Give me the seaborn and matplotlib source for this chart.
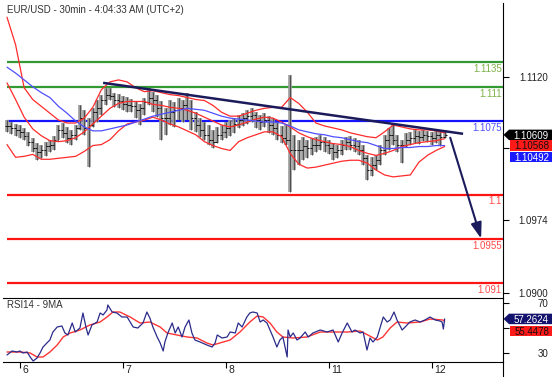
import numpy as np
import pandas as pd
import matplotlib
matplotlib.use("Agg")
import matplotlib.pyplot as plt
from matplotlib.lines import Line2D
from matplotlib.patches import Polygon
import seaborn as sns

# ---------------- data ----------------
bar_hour = list(range(103))
high = [1.1076,1.1074,1.1072,1.1071,1.1068,1.1064,1.1058,1.1053,1.1051,1.1054,
        1.1056,1.1060,1.1071,1.1073,1.1069,1.1066,1.1071,1.1091,1.1086,1.1078,
        1.1088,1.1097,1.1102,1.1109,1.1109,1.1104,1.1103,1.1101,1.1100,1.1098,
        1.1095,1.1092,1.1099,1.1109,1.1105,1.1102,1.1095,1.1088,1.1097,1.1094,
        1.1099,1.1097,1.1104,1.1097,1.1084,1.1078,1.1074,1.1071,1.1066,1.1069,
        1.1071,1.1074,1.1076,1.1078,1.1081,1.1083,1.1086,1.1088,1.1084,1.1081,
        1.1083,1.1080,1.1078,1.1074,1.1070,1.1071,1.1122,1.1061,1.1056,1.1059,
        1.1056,1.1058,1.1059,1.1061,1.1059,1.1056,1.1053,1.1051,1.1056,1.1059,
        1.1060,1.1058,1.1056,1.1051,1.1040,1.1038,1.1040,1.1051,1.1061,1.1068,
        1.1073,1.1061,1.1056,1.1063,1.1064,1.1066,1.1065,1.1066,1.1065,1.1064,
        1.1066,1.1065,1.1066]
low = [1.1064,1.1062,1.1060,1.1058,1.1056,1.1050,1.1043,1.1035,1.1037,1.1039,
       1.1043,1.1045,1.1056,1.1058,1.1053,1.1051,1.1056,1.1066,1.1061,1.1028,
       1.1069,1.1074,1.1081,1.1091,1.1097,1.1089,1.1088,1.1086,1.1084,1.1084,
       1.1078,1.1071,1.1081,1.1091,1.1084,1.1079,1.1056,1.1061,1.1071,1.1069,
       1.1076,1.1074,1.1076,1.1066,1.1064,1.1059,1.1056,1.1051,1.1048,1.1053,
       1.1056,1.1058,1.1060,1.1063,1.1068,1.1070,1.1072,1.1074,1.1068,1.1066,
       1.1069,1.1063,1.1061,1.1056,1.1053,1.1051,1.1003,1.1025,1.1030,1.1035,
       1.1037,1.1040,1.1043,1.1045,1.1043,1.1041,1.1035,1.1037,1.1040,1.1045,
       1.1045,1.1043,1.1040,1.1030,1.1015,1.1019,1.1025,1.1030,1.1040,1.1045,
       1.1051,1.1043,1.1032,1.1049,1.1051,1.1053,1.1052,1.1055,1.1054,1.1051,
       1.1053,1.1050,1.1058]
close = [1.1070,1.1068,1.1066,1.1064,1.1060,1.1054,1.1048,1.1043,1.1045,1.1050,
         1.1051,1.1056,1.1066,1.1063,1.1058,1.1061,1.1068,1.1078,1.1068,1.1071,
         1.1084,1.1088,1.1097,1.1102,1.1101,1.1097,1.1095,1.1092,1.1091,1.1090,
         1.1086,1.1088,1.1094,1.1099,1.1097,1.1088,1.1078,1.1078,1.1084,1.1086,
         1.1088,1.1091,1.1088,1.1078,1.1071,1.1066,1.1061,1.1056,1.1054,1.1061,
         1.1064,1.1068,1.1070,1.1072,1.1076,1.1078,1.1080,1.1081,1.1076,1.1074,
         1.1076,1.1071,1.1068,1.1061,1.1058,1.1056,1.1045,1.1045,1.1045,1.1050,
         1.1048,1.1051,1.1051,1.1054,1.1051,1.1048,1.1043,1.1045,1.1051,1.1054,
         1.1051,1.1050,1.1045,1.1037,1.1025,1.1030,1.1035,1.1045,1.1056,1.1061,
         1.1056,1.1051,1.1051,1.1056,1.1058,1.1060,1.1059,1.1061,1.1060,1.1058,
         1.1061,1.1059,1.1061]

band_hour = list(range(0, 103, 2))
bb_upper = [1.1181,1.1153,1.1109,1.1097,1.1090,1.1083,1.1076,1.1073,1.1073,1.1078,
            1.1089,1.1107,1.1115,1.1117,1.1115,1.1109,1.1105,1.1106,1.1104,1.1102,
            1.1101,1.1099,1.1097,1.1096,1.1091,1.1084,1.1080,1.1080,1.1083,1.1086,
            1.1088,1.1089,1.1089,1.1099,1.1093,1.1084,1.1073,1.1070,1.1068,1.1066,
            1.1063,1.1061,1.1059,1.1058,1.1064,1.1071,1.1069,1.1067,1.1066,1.1066,
            1.1065,1.1063]
bb_mid = [1.1114,1.1097,1.1079,1.1067,1.1060,1.1055,1.1054,1.1055,1.1058,1.1064,
          1.1072,1.1080,1.1088,1.1093,1.1095,1.1095,1.1095,1.1092,1.1091,1.1089,
          1.1088,1.1086,1.1083,1.1079,1.1075,1.1071,1.1069,1.1071,1.1074,1.1077,
          1.1079,1.1078,1.1074,1.1069,1.1063,1.1059,1.1056,1.1054,1.1052,1.1051,
          1.1049,1.1045,1.1042,1.1040,1.1042,1.1045,1.1049,1.1051,1.1053,1.1054,
          1.1055,1.1057]
bb_lower = [1.1051,1.1038,1.1039,1.1041,1.1036,1.1036,1.1037,1.1038,1.1039,1.1044,
            1.1050,1.1051,1.1056,1.1065,1.1072,1.1074,1.1076,1.1079,1.1076,1.1072,
            1.1069,1.1065,1.1061,1.1054,1.1050,1.1047,1.1045,1.1054,1.1058,1.1061,
            1.1064,1.1064,1.1059,1.1042,1.1031,1.1027,1.1028,1.1030,1.1032,1.1034,
            1.1035,1.1035,1.1032,1.1025,1.1020,1.1018,1.1019,1.1020,1.1033,1.1040,
            1.1045,1.1049]
ma_blue = [1.1130,1.1124,1.1117,1.1110,1.1104,1.1099,1.1090,1.1083,1.1075,1.1069,
           1.1065,1.1065,1.1067,1.1069,1.1071,1.1074,1.1077,1.1080,1.1082,1.1084,
           1.1086,1.1088,1.1087,1.1086,1.1083,1.1080,1.1078,1.1077,1.1076,1.1075,
           1.1074,1.1074,1.1073,1.1070,1.1066,1.1064,1.1062,1.1061,1.1059,1.1058,
           1.1056,1.1054,1.1053,1.1050,1.1047,1.1047,1.1048,1.1048,1.1049,1.1049,
           1.1050,1.1050]

rsi_hour = [0.0,1.2,2.3,3.0,3.7,4.7,5.4,6.1,7.0,7.7,
            8.4,9.3,10.0,10.7,11.7,12.8,13.5,14.2,15.2,15.9,
            17.0,17.7,18.4,18.9,19.8,21.0,21.7,22.4,23.3,23.5,
            24.5,25.6,26.8,28.0,28.7,29.4,30.5,31.7,32.6,33.3,
            34.0,35.0,35.7,36.4,36.8,37.5,38.5,39.2,39.9,40.8,
            41.5,42.4,43.1,43.8,45.0,46.6,47.8,48.5,49.0,50.1,
            51.3,52.0,53.2,53.9,54.8,55.9,56.6,57.3,58.3,59.0,
            59.7,60.6,61.3,62.0,62.9,63.6,64.3,65.3,65.5,66.0,
            66.7,67.6,68.3,69.5,70.2,71.3,73.0,74.6,76.0,77.2,
            78.1,79.3,80.4,81.1,82.3,83.0,83.9,84.6,85.3,86.3,
            87.0,87.7,88.6,89.3,90.2,90.9,92.1,92.8,93.9,95.1,
            96.3,97.4,98.6,99.8,100.9,101.4,101.7,102.0]
rsi_value = [28.4,31.6,30.8,31.6,30.0,30.8,26.8,23.6,26.0,30.0,
             34.8,38.0,40.4,46.8,50.8,51.6,46.0,44.4,54.0,46.8,
             50.0,62.0,50.8,44.4,52.4,54.8,62.0,60.4,64.4,68.4,
             62.8,62.0,58.8,58.8,54.8,50.8,50.0,54.0,62.8,58.0,
             50.8,42.8,38.0,31.6,38.8,46.0,54.0,46.0,50.8,42.8,
             50.8,56.4,46.0,40.4,38.8,36.4,34.8,38.0,44.4,42.0,
             42.8,46.8,46.0,54.0,50.8,58.8,62.0,62.8,62.0,54.8,
             56.4,54.0,48.4,42.8,34.8,40.4,42.8,26.8,48.4,42.8,
             46.0,40.4,42.0,46.8,42.8,46.0,48.4,46.8,48.4,38.8,
             46.0,54.0,46.8,48.4,46.0,46.8,32.4,42.0,38.8,42.8,
             50.8,58.8,54.8,56.4,62.8,56.4,48.4,50.8,54.8,56.4,
             54.8,56.4,58.8,56.4,55.6,54.8,49.2,57.26]
rsi_ma_hour = [0.0,3.0,5.4,7.0,8.4,10.0,11.7,13.1,14.7,17.0,
               19.3,21.7,23.3,24.7,26.3,28.7,31.0,33.3,35.7,37.3,
               39.6,42.0,44.3,46.6,48.0,49.6,52.0,54.3,56.6,58.3,
               59.7,61.3,62.9,64.3,66.7,69.9,73.0,76.0,79.3,82.3,
               84.1,86.3,87.6,89.3,90.9,93.2,96.3,98.6,101.6,102.0]
rsi_ma_value = [30.8,30.8,30.0,26.8,26.8,30.8,36.4,42.8,46.0,48.4,
                52.4,54.8,58.8,62.8,62.8,58.8,54.0,54.8,50.8,46.0,
                44.4,42.8,42.0,38.0,36.4,38.0,40.4,46.8,54.8,59.6,
                58.8,54.0,46.8,42.8,42.0,42.8,46.8,46.8,46.8,47.6,
                44.4,40.4,42.8,50.0,54.8,54.0,54.8,57.2,56.4,55.45]

levels = [1.1135, 1.111, 1.1075, 1.1, 1.0955, 1.091]
level_labels = ["1.1135", "1.111", "1.1075", "1.1", "1.0955", "1.091"]
level_line_colors = ["#339a33", "#339a33", "#1414ff", "#ff1414", "#ff1414", "#ff1414"]
level_text_colors = ["#7fb24a", "#7fb24a", "#5050ff", "#ff4a4a", "#ff4a4a", "#ff4a4a"]

day_hour = [3, 27, 51, 75, 99]
day_labels = ["6", "7", "8", "11", "12"]
price_ticks = [1.1120, 1.1047, 1.0974, 1.0900]
price_tick_labels = ["1.1120", "", "1.0974", "1.0900"]
rsi_ticks = [70, 50, 30]
rsi_tick_labels = ["70", "", "30"]

trend_hour = [22.4, 106.3]
trend_price = [1.1114, 1.1062]
arrow_hour = [103.3, 110.5]
arrow_price = [1.1058, 1.0955]

last_close, last_mid, last_ma = 1.10609, 1.10568, 1.10492
last_rsi, last_rsi_ma = 57.2624, 55.4478

# ---------------- figure ----------------
sns.set_style("white")
plt.rcParams["font.family"] = ["Liberation Sans", "DejaVu Sans"]

W, H = 558, 377
fig = plt.figure(figsize=(W / 100, H / 100), dpi=100, facecolor="white")
ax = fig.add_axes([3 / W, 1 - 298 / H, 500 / W, 295 / H])
axr = fig.add_axes([3 / W, 1 - 362 / H, 500 / W, 64 / H])

XMIN, XMAX = -0.93, 115.6
for a in (ax, axr):
    a.set_xlim(XMIN, XMAX)
    a.set_facecolor("white")
    a.spines["left"].set_visible(False)
    a.spines["right"].set_color("black")
    a.spines["right"].set_linewidth(0.8)
ax.spines["top"].set_visible(False)
ax.spines["bottom"].set_visible(False)
axr.spines["top"].set_linewidth(0.8)
axr.spines["top"].set_color("black")
axr.spines["bottom"].set_linewidth(0.8)
axr.spines["bottom"].set_color("black")
ax.set_ylim(1.08944, 1.11955)
axr.set_ylim(22.8, 74.0)

# level lines
ax.hlines(levels, 0, XMAX, colors=level_line_colors, linewidth=1.6, zorder=1)
for lv, lab, tc in zip(levels, level_labels, level_text_colors):
    ax.annotate(lab, xy=(1, lv), xycoords=("axes fraction", "data"),
                xytext=(-0.8, -5.0), textcoords="offset points",
                ha="right", va="center", fontsize=7, color=tc, zorder=4)

# bars
opens = [close[0]] + close[:-1]
ax.vlines(bar_hour, low, high, color="#9a9a9a", linewidth=2.6, zorder=2)
ax.vlines(bar_hour, low, high, color="#3a3a3a", linewidth=0.55, zorder=3)
ax.hlines(close, np.array(bar_hour), np.array(bar_hour) + 0.45, color="#111111",
          linewidth=0.7, zorder=3)
ax.hlines(opens, np.array(bar_hour) - 0.45, np.array(bar_hour), color="#111111",
          linewidth=0.7, zorder=3)

# bands and moving average
bands = pd.DataFrame({"hour": band_hour, "upper": bb_upper, "mid": bb_mid,
                      "lower": bb_lower, "ma": ma_blue})
for col, colr in (("upper", "#ff2b2b"), ("mid", "#ff2b2b"), ("lower", "#ff2b2b"), ("ma", "#4f4fff")):
    sns.lineplot(data=bands, x="hour", y=col, ax=ax, color=colr, linewidth=0.9,
                 legend=False, zorder=4)

# trend line and arrow
ax.plot(trend_hour, trend_price, color="#1b1b5c", linewidth=1.8, zorder=5, solid_capstyle="butt")
ax.annotate("", xy=(arrow_hour[1], arrow_price[1]), xytext=(arrow_hour[0], arrow_price[0]),
            arrowprops=dict(arrowstyle="-|>,head_length=0.95,head_width=0.32",
                            color="#1b1b5c", lw=1.5, shrinkA=0, shrinkB=0,
                            mutation_scale=10), zorder=5)

# RSI panel
rsi_df = pd.DataFrame({"hour": rsi_hour, "rsi": rsi_value})
rsi_ma_df = pd.DataFrame({"hour": rsi_ma_hour, "ma": rsi_ma_value})
sns.lineplot(data=rsi_ma_df, x="hour", y="ma", ax=axr, color="#ff3535", linewidth=1.0, legend=False)
sns.lineplot(data=rsi_df, x="hour", y="rsi", ax=axr, color="#2b2b8c", linewidth=0.9, legend=False)

for a in (ax, axr):
    a.set_xlabel("")
    a.set_ylabel("")

# ticks
ax.set_xticks([])
ax.set_yticks(price_ticks)
ax.tick_params(axis="y", left=False, right=True, labelleft=False, labelright=False,
               direction="out", length=4, width=0.8, color="black")
axr.set_yticks(rsi_ticks)
axr.tick_params(axis="y", left=False, right=True, labelleft=False, labelright=False,
                direction="out", length=4, width=0.8, color="black")
axr.set_xticks(day_hour)
axr.tick_params(axis="x", bottom=True, labelbottom=False, direction="out",
                length=4, width=0.8, color="black")

for t, lab in zip(price_ticks, price_tick_labels):
    if lab:
        ax.annotate(lab, xy=(1, t), xycoords=("axes fraction", "data"), xytext=(32.5, 0),
                    textcoords="offset points", ha="right", va="center_baseline",
                    fontsize=7, color="#222222", annotation_clip=False)
for t, lab in zip(rsi_ticks, rsi_tick_labels):
    if lab:
        axr.annotate(lab, xy=(1, t), xycoords=("axes fraction", "data"), xytext=(32.5, 0),
                     textcoords="offset points", ha="right", va="center_baseline",
                     fontsize=7, color="#222222", annotation_clip=False)
for d, lab in zip(day_hour, day_labels):
    axr.annotate(lab, xy=(d, 0), xycoords=("data", "axes fraction"), xytext=(1.6, -2.0),
                 textcoords="offset points", ha="left", va="top", fontsize=7.5,
                 color="#222222", annotation_clip=False)

# right axis line continues below the RSI panel
fig.add_artist(Line2D([503 / W, 503 / W], [0, 15 / H], transform=fig.transFigure,
                      color="black", linewidth=0.8))

# texts
fig.text(7 / W, 1 - 10 / H, "EUR/USD - 30min - 4:04:33 AM (UTC+2)", fontsize=7,
         color="#333333", ha="left", va="center")
fig.text(7 / W, 1 - 305 / H, "RSI14 - 9MA", fontsize=7, color="#333333",
         ha="left", va="center")


def tag(a, value, text, fc, tc, dy_px, pointer):
    y_disp = a.transData.transform((0, value))[1]
    yc = y_disp - dy_px
    h = 10.5
    x0, x1 = (509, 552) if pointer else (510, 552)
    pts = [(x0, yc - h / 2), (x1, yc - h / 2), (x1, yc + h / 2), (x0, yc + h / 2)]
    if pointer:
        pts = [(503.5, yc)] + pts
    poly = Polygon([(x / W, y / H) for x, y in pts], closed=True,
                   transform=fig.transFigure, facecolor=fc, edgecolor="none", zorder=5)
    fig.add_artist(poly)
    fig.text((x0 + x1) / 2 / W + 0.6 / W, yc / H, text, ha="center", va="center_baseline",
             fontsize=7, color=tc, zorder=6)


tag(ax, last_close, "1.10609", "#000000", "white", 0, True)
tag(ax, last_mid, "1.10568", "#ff1a1a", "#111111", 6.5, False)
tag(ax, last_ma, "1.10492", "#1a1aff", "white", 10.7, False)
tag(axr, last_rsi, "57.2624", "#14146e", "white", 0, True)
tag(axr, last_rsi_ma, "55.4478", "#ff1a1a", "#111111", 9.8, False)

fig.savefig("out.png", dpi=100, facecolor="white")
